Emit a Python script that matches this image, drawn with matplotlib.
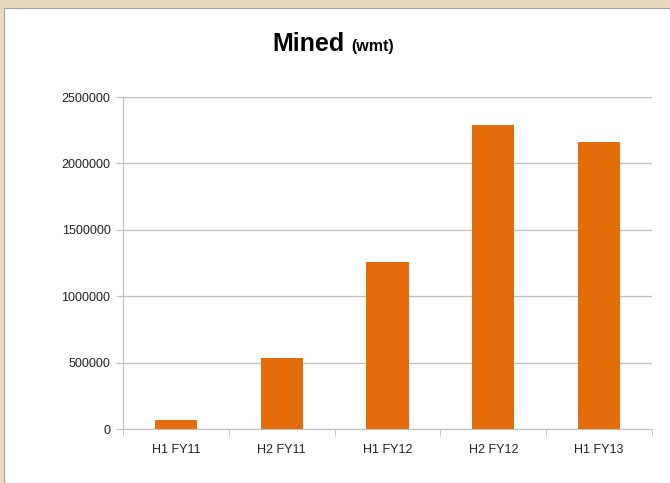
import matplotlib.pyplot as plt
from matplotlib.patches import Rectangle

# data
periods = ["H1 FY11", "H2 FY11", "H1 FY12", "H2 FY12", "H1 FY13"]
mined_wmt = [65000, 535000, 1255000, 2288000, 2162000]
y_ticks = [0, 500000, 1000000, 1500000, 2000000, 2500000]

plt.rcParams["font.family"] = ["Liberation Sans", "DejaVu Sans"]

fig = plt.figure(figsize=(6.7, 4.83), dpi=100, facecolor="#ead9c1")
# white chart area inside the beige frame
fig.patches.append(Rectangle((4 / 670, 0), 1, (483 - 8) / 483, transform=fig.transFigure,
                             facecolor="white", edgecolor="#a0a0a0", linewidth=0.8, zorder=-10))

ax = fig.add_axes([123 / 670, 54 / 483, 529 / 670, 332 / 483])
ax.set_facecolor("white")

x = range(len(periods))
ax.bar(x, mined_wmt, width=0.4, color="#e46c0a", zorder=3)

ax.set_xlim(-0.5, len(periods) - 0.5)
ax.set_ylim(0, 2500000)
ax.set_yticks(y_ticks)
ax.set_yticklabels([str(v) for v in y_ticks])
ax.set_xticks(list(x))
ax.set_xticklabels(periods)
ax.set_xticks([i - 0.5 for i in range(len(periods) + 1)], minor=True)

ax.grid(axis="y", color="#bfbfbf", linewidth=0.9, zorder=0)
for side in ["top", "right"]:
    ax.spines[side].set_visible(False)
ax.spines["left"].set_color("#bfbfbf")
ax.spines["bottom"].set_color("#bfbfbf")

ax.tick_params(axis="y", length=5, color="#bfbfbf", labelsize=9, labelcolor="#222222", pad=4)
ax.tick_params(axis="x", which="major", length=0, labelsize=9, labelcolor="#222222", pad=11)
ax.tick_params(axis="x", which="minor", length=5, color="#bfbfbf")

fig.text(345 / 670, 1 - 51 / 483, "Mined", fontsize=18, fontweight="bold", ha="right", va="baseline")
fig.text(351 / 670, 1 - 51 / 483, "(wmt)", fontsize=11.5, fontweight="bold", ha="left", va="baseline")

fig.savefig("out.png", dpi=100, facecolor=fig.get_facecolor())
